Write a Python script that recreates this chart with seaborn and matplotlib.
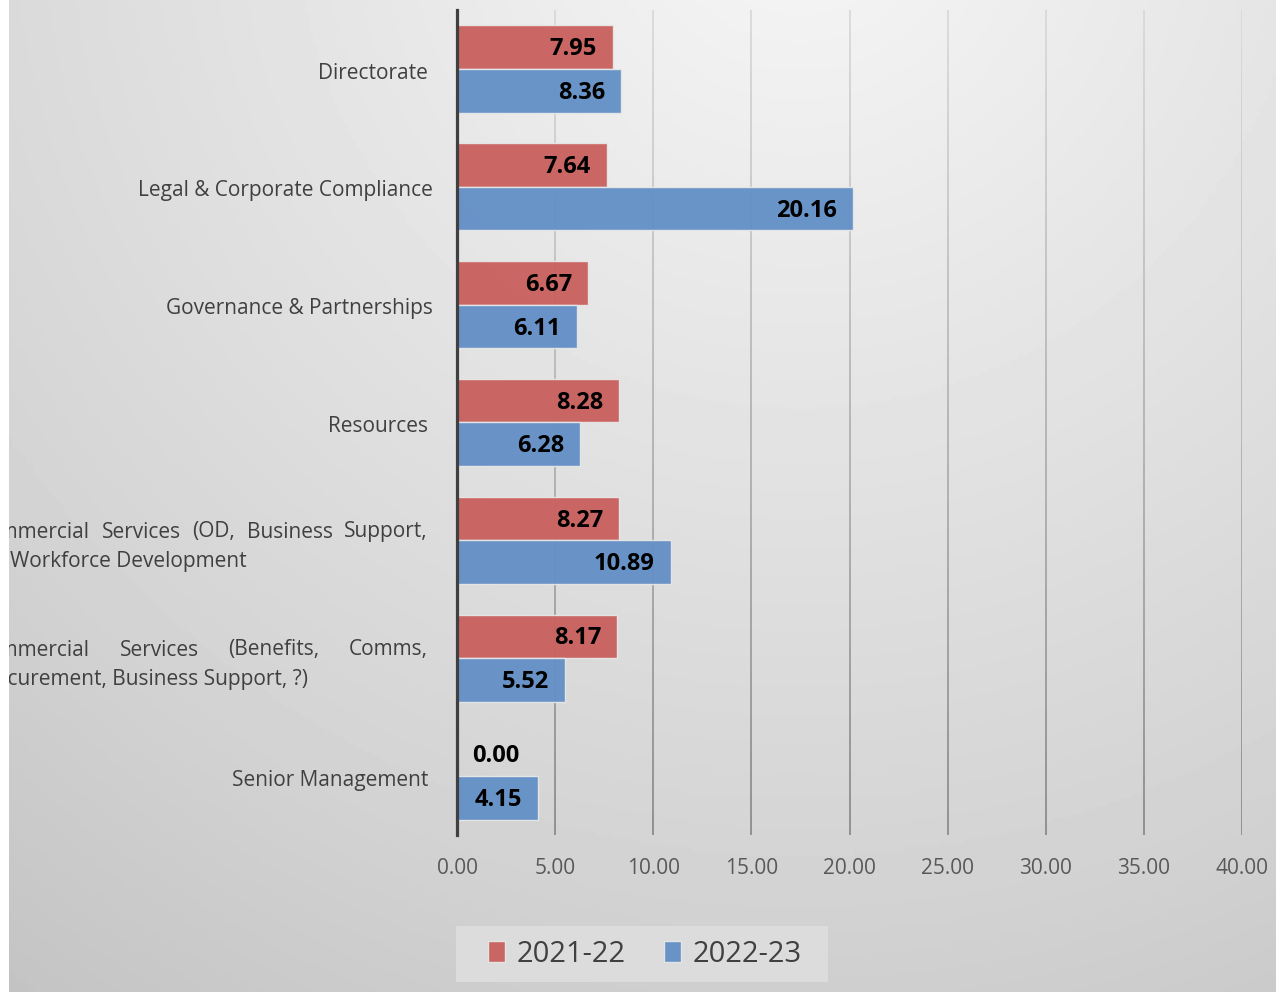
import numpy as np
import pandas as pd
import seaborn as sns
import matplotlib.pyplot as plt
from matplotlib.patches import Rectangle

# data
departments = ['Directorate', 'Legal & Corporate Compliance', 'Governance & Partnerships',
               'Resources', 'Commercial Services (OD, Business Support, Workforce Development',
               'Commercial Services (Benefits, Comms, Procurement, Business Support, ?)',
               'Senior Management']
vals_2122 = [7.95, 7.64, 6.67, 8.28, 8.27, 8.17, 0.00]
vals_2223 = [8.36, 20.16, 6.11, 6.28, 10.89, 5.52, 4.15]
years = ['2021-22', '2022-23']
colors = ['#c9625f', '#6591c7']

W, H = 1285, 992
LBL = 15  # category label size

df = pd.DataFrame({
    'dept': departments * 2,
    'value': vals_2122 + vals_2223,
    'year': [years[0]] * len(departments) + [years[1]] * len(departments),
})

sns.set_theme(style='white')
plt.rcParams['font.family'] = ['Open Sans', 'DejaVu Sans']

fig = plt.figure(figsize=(W / 100, H / 100), dpi=100)
fig.patch.set_facecolor('white')

# gradient background
bg = fig.add_axes([9 / W, 0, (1276 - 9) / W, 1], zorder=-10)
xs = np.linspace(9, 1276, 300)
ys = np.linspace(0, H, 240)
X, Y = np.meshgrid(xs, ys)
d = np.sqrt((X - 800) ** 2 + (Y + 100) ** 2) / 1000
g = np.clip(0.965 - 0.139 * d - 0.03 * np.clip(d - 1.0, 0, None), 0, 1)
bg.imshow(g, cmap='gray', vmin=0, vmax=1, aspect='auto', extent=[0, 1, 0, 1], origin='upper')
bg.axis('off')

ax = fig.add_axes([457 / W, 1 - 835 / H, (1242 - 457) / W, (835 - 10) / H])
ax.patch.set_alpha(0)

sns.barplot(data=df, y='dept', x='value', hue='year', palette=colors, orient='h',
            width=0.74, gap=0, edgecolor='#e6e6e6', linewidth=1.0, alpha=0.97,
            saturation=1, ax=ax, zorder=3)

ax.set_xlim(0, 40)
ax.set_ylim(6.5, -0.5)
ax.set_xticks(np.arange(0, 41, 5))
ax.set_xticklabels(['%.2f' % t for t in np.arange(0, 41, 5)], color='#595959', fontsize=15)
ax.set_xlabel('')
ax.set_ylabel('')
ax.tick_params(axis='x', length=0, pad=16.5)
ax.set_yticks(range(len(departments)))
ax.set_yticklabels([])
ax.tick_params(axis='y', length=0)

# single-line category labels
for i, name in enumerate(departments):
    if name.startswith('Commercial'):
        continue
    dx = -24 if '&' in name else -29
    ax.annotate(name, xy=(0, i), xycoords=('axes fraction', 'data'), xytext=(dx * 0.72, -3),
                textcoords='offset points', ha='right', va='center', fontsize=LBL, color='#404040')

for s in ['top', 'right', 'bottom']:
    ax.spines[s].set_visible(False)
ax.spines['left'].set_color('#404040')
ax.spines['left'].set_linewidth(2.3)
ax.spines['left'].set_zorder(5)

# gridlines getting darker towards the bottom
for t in np.arange(5, 41, 5):
    n = 40
    yy = np.linspace(-0.5, 6.5, n + 1)
    shades = np.linspace(0.85, 0.55, n)
    ax.vlines([t] * n, yy[:-1], yy[1:], colors=[(s, s, s) for s in shades], linewidth=1.3, zorder=1)

# value labels
for cont in ax.containers:
    for bar in cont:
        v = bar.get_width()
        yc = bar.get_y() + bar.get_height() / 2
        if v < 3:
            ax.annotate('%.2f' % v, (0, yc), xytext=(11, -1.5), textcoords='offset points',
                        ha='left', va='center', fontsize=17, fontweight='bold', color='black', zorder=6)
        else:
            ax.annotate('%.2f' % v, (v, yc), xytext=(-11.5, -1.5), textcoords='offset points',
                        ha='right', va='center', fontsize=17, fontweight='bold', color='black', zorder=6)

# long justified category labels, clipped at the chart's left edge
fig.canvas.draw()
rend = fig.canvas.get_renderer()


def text_w(s):
    t = fig.text(0, 0, s, fontsize=LBL)
    w = t.get_window_extent(rend).width
    t.remove()
    return w


def justified(words, left, right, ypx):
    ws = [text_w(w) for w in words]
    gap = (right - left - sum(ws)) / (len(words) - 1)
    x = left
    for w, wd in zip(words, ws):
        fig.text(x / W, 1 - ypx / H, w, fontsize=LBL, color='#404040', ha='left', va='center')
        x += wd + gap


L1 = 9 - (text_w('Co') + 0.5 * text_w('m'))
justified('Commercial Services (OD, Business Support,'.split(), L1, 428, 532)
fig.text(10 / W, 1 - 562 / H, 'Workforce Development', fontsize=LBL, color='#404040', ha='left', va='center')
justified('Commercial Services (Benefits, Comms,'.split(), L1, 428, 650)
fig.text((7 - text_w('Pro')) / W, 1 - 680 / H, 'Procurement, Business Support, ?)', fontsize=LBL,
         color='#404040', ha='left', va='center')

fig.patches.append(Rectangle((0, 0), 9 / W, 1, transform=fig.transFigure, facecolor='white',
                             edgecolor='none', zorder=100))
fig.patches.append(Rectangle((1277 / W, 0), 8 / W, 1, transform=fig.transFigure, facecolor='white',
                             edgecolor='none', zorder=100))

# legend with its own grey box (drawn beneath the axes)
fig.patches.append(Rectangle((456 / W, 1 - 982 / H), (828 - 456) / W, 56 / H, transform=fig.transFigure,
                             facecolor='#dcdcdc', edgecolor='none', zorder=-5))
handles, labels = ax.get_legend_handles_labels()
leg = ax.legend(handles, labels, loc='center', bbox_to_anchor=(645 / W, 1 - 954 / H),
                bbox_transform=fig.transFigure, ncol=2, fontsize=21, frameon=False,
                handlelength=0.6, handleheight=0.7, handletextpad=0.4, columnspacing=1.3,
                borderpad=0.3)
for txt in leg.get_texts():
    txt.set_color('#404040')

fig.savefig('out.png', dpi=100)
